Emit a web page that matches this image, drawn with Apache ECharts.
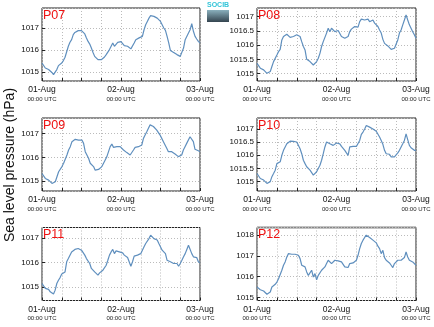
<!DOCTYPE html>
<html><head><meta charset="utf-8">
<script src="https://cdn.jsdelivr.net/npm/echarts@6/dist/echarts.min.js"></script>
<style>html,body{margin:0;padding:0;background:#fff}#c{width:434px;height:327px}</style>
</head><body><div id="c"></div>
<script>
const panelNames = ['P07','P08','P09','P10','P11','P12'];
const xLabels = ['01-Aug','02-Aug','03-Aug'];
const yTitle = 'Sea level pressure (hPa)';
const p07 = [1015.41,1015.33,1015.18,1015.11,1015.11,1015.08,1014.98,1014.88,1014.88,1015.11,1015.29,1015.32,1015.41,1015.52,1015.67,1015.74,1016.17,1016.35,1016.47,1016.70,1016.80,1016.85,1016.88,1016.89,1016.88,1016.85,1016.73,1016.55,1016.39,1016.27,1016.09,1015.89,1015.71,1015.64,1015.56,1015.48,1015.56,1015.59,1015.68,1015.79,1015.86,1016.02,1016.17,1016.32,1016.17,1016.24,1016.35,1016.32,1016.38,1016.35,1016.20,1016.17,1016.17,1016.09,1016.05,1016.05,1016.32,1016.47,1016.50,1016.55,1016.59,1016.62,1016.92,1017.15,1017.30,1017.45,1017.56,1017.62,1017.53,1017.50,1017.45,1017.38,1017.30,1017.15,1017.00,1016.89,1016.62,1016.32,1015.98,1015.94,1015.89,1015.86,1015.79,1015.74,1015.71,1015.79,1016.09,1016.47,1016.55,1016.77,1016.92,1017.20,1016.85,1016.62,1016.50,1016.39,1016.32];
const p08 = [1015.36,1015.30,1015.19,1015.16,1015.13,1015.13,1015.01,1014.95,1015.07,1015.25,1015.42,1015.48,1015.65,1015.77,1015.85,1016.18,1016.30,1016.36,1016.38,1016.32,1016.27,1016.30,1016.30,1016.32,1016.36,1016.39,1016.30,1016.12,1015.95,1015.83,1015.50,1015.46,1015.42,1015.39,1015.30,1015.25,1015.42,1015.54,1015.71,1015.95,1016.12,1016.27,1016.42,1016.59,1016.47,1016.59,1016.53,1016.47,1016.47,1016.51,1016.44,1016.30,1016.27,1016.24,1016.20,1016.30,1016.47,1016.56,1016.63,1016.65,1016.59,1016.63,1016.82,1016.91,1016.92,1016.88,1016.94,1016.91,1016.82,1016.88,1016.88,1016.77,1016.71,1016.65,1016.53,1016.42,1016.20,1016.06,1016.01,1015.97,1015.95,1015.85,1015.81,1015.89,1015.95,1016.18,1016.42,1016.53,1016.71,1016.88,1017.06,1016.88,1016.71,1016.59,1016.47,1016.36,1016.24];
const p09 = [1015.32,1015.25,1015.11,1015.07,1015.04,1015.01,1014.90,1014.83,1014.97,1015.18,1015.39,1015.46,1015.61,1015.75,1015.82,1016.10,1016.31,1016.45,1016.66,1016.73,1016.76,1016.76,1016.73,1016.76,1016.73,1016.59,1016.24,1016.10,1015.96,1015.75,1015.68,1015.61,1015.46,1015.39,1015.49,1015.54,1015.61,1015.75,1015.89,1016.03,1016.24,1016.45,1016.56,1016.42,1016.48,1016.45,1016.48,1016.45,1016.38,1016.31,1016.24,1016.20,1016.17,1016.10,1016.03,1016.31,1016.42,1016.45,1016.45,1016.48,1016.52,1016.80,1016.94,1017.08,1017.23,1017.37,1017.41,1017.30,1017.23,1017.15,1017.08,1016.94,1016.80,1016.66,1016.59,1016.38,1016.24,1016.20,1016.24,1016.17,1016.14,1016.06,1016.03,1016.00,1016.10,1016.31,1016.45,1016.59,1016.66,1016.87,1016.94,1016.66,1016.34,1016.38,1016.28,1016.24];
const p10 = [1015.30,1015.24,1015.11,1015.08,1015.05,1015.03,1014.92,1014.86,1014.99,1015.18,1015.30,1015.43,1015.68,1015.75,1015.75,1016.00,1016.19,1016.32,1016.44,1016.51,1016.54,1016.51,1016.53,1016.51,1016.51,1016.44,1016.25,1016.06,1015.81,1015.68,1015.56,1015.49,1015.43,1015.37,1015.24,1015.18,1015.37,1015.43,1015.62,1015.81,1016.06,1016.32,1016.51,1016.57,1016.44,1016.44,1016.38,1016.44,1016.47,1016.54,1016.44,1016.34,1016.29,1016.19,1016.09,1016.00,1016.32,1016.38,1016.34,1016.38,1016.34,1016.34,1016.57,1016.80,1016.89,1017.01,1017.14,1017.18,1017.08,1017.01,1017.01,1016.97,1016.92,1016.85,1016.70,1016.57,1016.42,1016.19,1016.06,1016.00,1016.04,1015.94,1016.00,1015.94,1015.87,1016.09,1016.19,1016.32,1016.44,1016.57,1016.82,1016.76,1016.38,1016.29,1016.29,1016.19,1016.19];
const p11 = [1015.15,1015.08,1014.95,1014.95,1014.91,1014.81,1014.74,1014.72,1014.88,1015.15,1015.28,1015.39,1015.53,1015.58,1015.62,1016.03,1016.16,1016.23,1016.43,1016.50,1016.53,1016.57,1016.57,1016.54,1016.50,1016.43,1016.30,1016.16,1016.12,1015.96,1015.76,1015.69,1015.62,1015.55,1015.49,1015.58,1015.62,1015.69,1015.76,1015.89,1016.09,1016.30,1016.43,1016.53,1016.36,1016.47,1016.43,1016.43,1016.47,1016.39,1016.30,1016.23,1016.20,1016.12,1015.85,1016.03,1016.26,1016.30,1016.30,1016.36,1016.36,1016.39,1016.64,1016.77,1016.84,1016.97,1017.11,1017.07,1016.97,1016.93,1016.91,1016.77,1016.70,1016.50,1016.43,1016.36,1016.09,1016.03,1016.03,1015.99,1015.96,1016.03,1015.96,1015.85,1015.96,1016.09,1016.23,1016.36,1016.53,1016.70,1016.74,1016.36,1016.23,1016.16,1016.20,1016.03,1015.99];
const p12 = [1015.50,1015.42,1015.37,1015.34,1015.31,1015.26,1015.15,1015.10,1015.26,1015.50,1015.58,1015.63,1015.74,1015.90,1015.98,1016.31,1016.55,1016.71,1016.95,1017.11,1017.11,1017.08,1017.11,1017.08,1017.03,1017.03,1016.87,1016.55,1016.63,1016.47,1016.23,1016.06,1015.98,1016.31,1015.98,1016.15,1015.85,1016.06,1016.15,1016.31,1016.39,1016.47,1016.63,1016.79,1016.71,1016.63,1016.71,1016.79,1016.82,1016.76,1016.82,1016.71,1016.63,1016.47,1016.39,1016.44,1016.63,1016.71,1016.66,1016.71,1016.79,1017.03,1017.35,1017.60,1017.76,1017.89,1018.00,1017.92,1017.89,1017.84,1017.76,1017.73,1017.63,1017.47,1017.35,1017.11,1017.27,1016.92,1016.79,1016.71,1016.66,1016.55,1016.44,1016.63,1016.71,1016.79,1016.71,1016.79,1016.76,1016.92,1017.19,1016.95,1016.79,1016.82,1016.71,1016.63,1016.55];
const yRanges = [[1014.59,1017.91],[1014.74,1017.30],[1014.58,1017.66],[1014.63,1017.43],[1014.46,1017.42],[1014.85,1018.37]];
const ySplits = [3,5,3,5,3,3];
const seriesData = [p07,p08,p09,p10,p11,p12];

const lefts = [42, 257];
const tops = [8, 118, 227.5];
const W = [158, 159];
const H = 73;

const chart = echarts.init(document.getElementById('c'), null, {renderer:'canvas'});
const grid=[], xAxis=[], yAxis=[], series=[], title=[];
const FONT = 'Liberation Sans';
for (let k=0;k<6;k++){
  const col=k%2, row=Math.floor(k/2);
  grid.push({left:lefts[col], top:tops[row], width:W[col], height:H, show:true, borderColor:'#222', borderWidth:1, backgroundColor:'transparent', containLabel:false});
  xAxis.push({type:'value', gridIndex:k, min:0, max:48, interval:24,
    axisLine:{show:false},
    axisTick:{show:true, inside:true, length:3, lineStyle:{color:'#222'}},
    minorTick:{show:true, splitNumber:4, length:3, lineStyle:{color:'#222'}},
    splitLine:{show:true, lineStyle:{color:'#bbb', type:[1,2], width:1}},
    minorSplitLine:{show:true, lineStyle:{color:'#bbb', type:[1,2], width:1}},
    axisLabel:{margin:4, formatter:v=>'{a|'+xLabels[Math.round(v/24)]+'}\n{b|00:00 UTC}',
      rich:{a:{fontFamily:FONT,fontSize:8.5,color:'#111',lineHeight:10},b:{fontFamily:FONT,fontSize:6,color:'#222',lineHeight:8}}}
  });
  yAxis.push({type:'value', gridIndex:k, min:yRanges[k][0], max:yRanges[k][1], splitNumber:ySplits[k], scale:true,
    axisLine:{show:false},
    axisTick:{show:true, inside:true, length:3, lineStyle:{color:'#222'}},
    splitLine:{show:true, lineStyle:{color:'#bbb', type:[1,2], width:1}},
    axisLabel:{showMinLabel:false, showMaxLabel:false, margin:3, fontFamily:FONT, fontSize:8, color:'#111',
      formatter:v=>String(Math.round(v*100)/100)}
  });
  series.push({type:'line', xAxisIndex:k, yAxisIndex:k, showSymbol:false, animation:false,
    data: seriesData[k].map((v,i)=>[i*48/(seriesData[k].length-1), v]),
    lineStyle:{color:'#5f8fbe', width:1.2}, itemStyle:{color:'#5f8fbe'}});
  title.push({text:panelNames[k], left:lefts[col]+1, top:tops[row]+1, padding:0,
    textStyle:{fontFamily:FONT, fontSize:12.5, fontWeight:'normal', color:'#ee1111'}});
}
chart.setOption({
  animation:false,
  grid, xAxis, yAxis, series, title,
  graphic:[
    {type:'text', x:10, y:165, rotation:Math.PI/2, style:{text:yTitle, font:'14px "Liberation Sans"', fill:'#111', textAlign:'center', textVerticalAlign:'middle'}},
    {type:'text', x:207, y:2, style:{text:'SOCIB', font:'bold 7px "Liberation Sans"', fill:'#33c4d8'}},
    {type:'rect', shape:{x:207, y:10, width:22, height:12}, style:{fill:new echarts.graphic.LinearGradient(0,0,0,1,[{offset:0,color:'#8ab0bd'},{offset:1,color:'#34444f'}])}},
    {type:'line', shape:{x1:257, y1:227.5, x2:416, y2:227.5}, style:{stroke:'#888', lineWidth:2}}
  ]
});
</script></body></html>
